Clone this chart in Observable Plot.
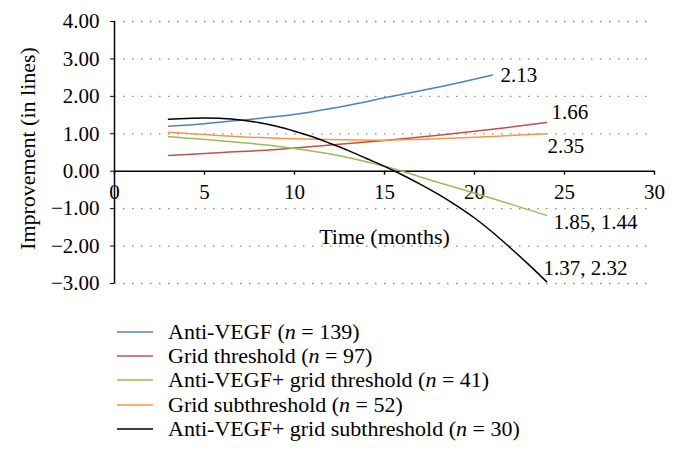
<!DOCTYPE html>
<html>
<head>
<meta charset="utf-8">
<script src="https://cdn.jsdelivr.net/npm/d3@7"></script>
<script src="https://cdn.jsdelivr.net/npm/@observablehq/plot@0.6"></script>
<style>
  body { margin: 0; background: #fff; font-family: "Liberation Serif", "Times New Roman", Times, "DejaVu Serif", serif; }
  #chart svg { display: block; }
  #chart svg text { font-family: "Liberation Serif", "Times New Roman", Times, "DejaVu Serif", serif; }
  #legend { margin-top: 20px; }
  .row { height: 24.2px; display: flex; align-items: center; font-size: 22px; color: #000; }
  .row svg { margin-left: 117px; margin-right: 15px; flex: none; }
</style>
</head>
<body>
<div id="chart"></div>
<div id="legend"></div>
<script>
// ---- data ----
const seriesNames = [
  "Anti-VEGF (<i>n</i> = 139)",
  "Grid threshold (<i>n</i> = 97)",
  "Anti-VEGF+ grid threshold (<i>n</i> = 41)",
  "Grid subthreshold (<i>n</i> = 52)",
  "Anti-VEGF+ grid subthreshold (<i>n</i> = 30)"
];
const seriesColors = ["#4f81bd", "#c0504d", "#9bbb59", "#f79646", "#000000"];
const endLabels = ["2.13", "1.66", "1.85, 1.44", "2.35", "1.37, 2.32"];

const antiVegfMonths = [3, 5, 7, 9, 11, 13, 15, 17, 19, 21];
const antiVegf = [1.20, 1.27, 1.36, 1.46, 1.59, 1.76, 1.96, 2.15, 2.35, 2.57];

const gridThresholdMonths = [3, 6, 9, 12, 15, 18, 21, 24];
const gridThreshold = [0.42, 0.50, 0.58, 0.70, 0.82, 0.96, 1.12, 1.30];

const comboThresholdMonths = [3, 6, 9, 12, 15, 18, 21, 24];
const comboThreshold = [0.92, 0.81, 0.67, 0.46, 0.13, -0.30, -0.73, -1.18];

const gridSubMonths = [3, 6, 9, 12, 15, 18, 21, 24];
const gridSub = [1.04, 0.95, 0.88, 0.85, 0.83, 0.87, 0.93, 1.00];

const comboSubMonths = [3, 4, 5, 6, 7, 8, 9, 10, 11, 12, 13, 14, 15, 16, 17, 18, 19, 20, 21, 22, 23, 24];
const comboSub = [1.39, 1.41, 1.42, 1.41, 1.37, 1.30, 1.20, 1.07, 0.92, 0.74, 0.55, 0.34, 0.13, -0.10, -0.35, -0.62, -0.92, -1.25, -1.63, -2.05, -2.49, -2.95];

const xTicks = [0, 5, 10, 15, 20, 25, 30];
const yTicks = [-3, -2, -1, 0, 1, 2, 3, 4];
const gridY = [-3, -2, -1, 1, 2, 3, 4];

const xTitle = "Time (months)";
const yTitle = "Improvement (in lines)";

// ---- build ----
const allMonths = [antiVegfMonths, gridThresholdMonths, comboThresholdMonths, gridSubMonths, comboSubMonths];
const allValues = [antiVegf, gridThreshold, comboThreshold, gridSub, comboSub];
const rows = [];
allMonths.forEach((ms, s) => ms.forEach((m, i) => rows.push({s, month: m, value: allValues[s][i]})));

// label offsets (px) relative to each series' end point
const labelOffsets = [[8, 0], [5, -10], [7, 7], [1, 12], [-3, -13]];
const labelMarks = allMonths.map((ms, s) => Plot.text([s], {
  x: () => ms[ms.length - 1],
  y: () => allValues[s][allValues[s].length - 1],
  text: () => endLabels[s],
  textAnchor: "start",
  dx: labelOffsets[s][0],
  dy: labelOffsets[s][1],
  fill: "#000",
  fontSize: 21
}));

const chart = Plot.plot({
  width: 678,
  height: 300,
  marginLeft: 114,
  marginRight: 24,
  marginTop: 21,
  marginBottom: 17,
  style: {fontFamily: "'Liberation Serif', 'Times New Roman', serif", fontSize: "21px", color: "#000", background: "#fff"},
  x: {domain: [0, 30], axis: null},
  y: {domain: [-3, 4], ticks: yTicks, tickFormat: d3.format(".2f"), tickSize: 4, tickPadding: 11, label: null},
  marks: [
    Plot.ruleY(gridY, {stroke: "#888", strokeDasharray: "1.5,7.5", strokeWidth: 1.3}),
    Plot.ruleY([0], {stroke: "#000", strokeWidth: 1.4}),
    Plot.ruleX([0], {stroke: "#000", strokeWidth: 1.5}),
    Plot.ruleX(xTicks, {x: d => d, y1: 0, y2: 0, insetBottom: -4, stroke: "#000", strokeWidth: 1.4}),
    Plot.text(xTicks, {x: d => d, y: 0, text: d => String(d), dy: 21, fill: "#000", fontSize: 21}),
    Plot.line(rows, {x: "month", y: "value", z: "s", stroke: d => seriesColors[d.s], curve: "catmull-rom", strokeWidth: 1.5}),
    ...labelMarks,
    Plot.text([xTitle], {frameAnchor: "top", dy: 207, text: d => d, fontSize: 22, fill: "#000"}),
    Plot.text([yTitle], {frameAnchor: "left", textAnchor: "middle", dx: -87, dy: -4, rotate: -90, text: d => d, fontSize: 22, fill: "#000"})
  ]
});
document.getElementById("chart").appendChild(chart);

const legend = document.getElementById("legend");
seriesNames.forEach((name, i) => {
  const row = document.createElement("div");
  row.className = "row";
  row.innerHTML = `<svg width="36" height="4"><line x1="0" x2="36" y1="2" y2="2" stroke="${seriesColors[i]}" stroke-width="1.5"/></svg><span>${name}</span>`;
  legend.appendChild(row);
});
</script>
</body>
</html>
